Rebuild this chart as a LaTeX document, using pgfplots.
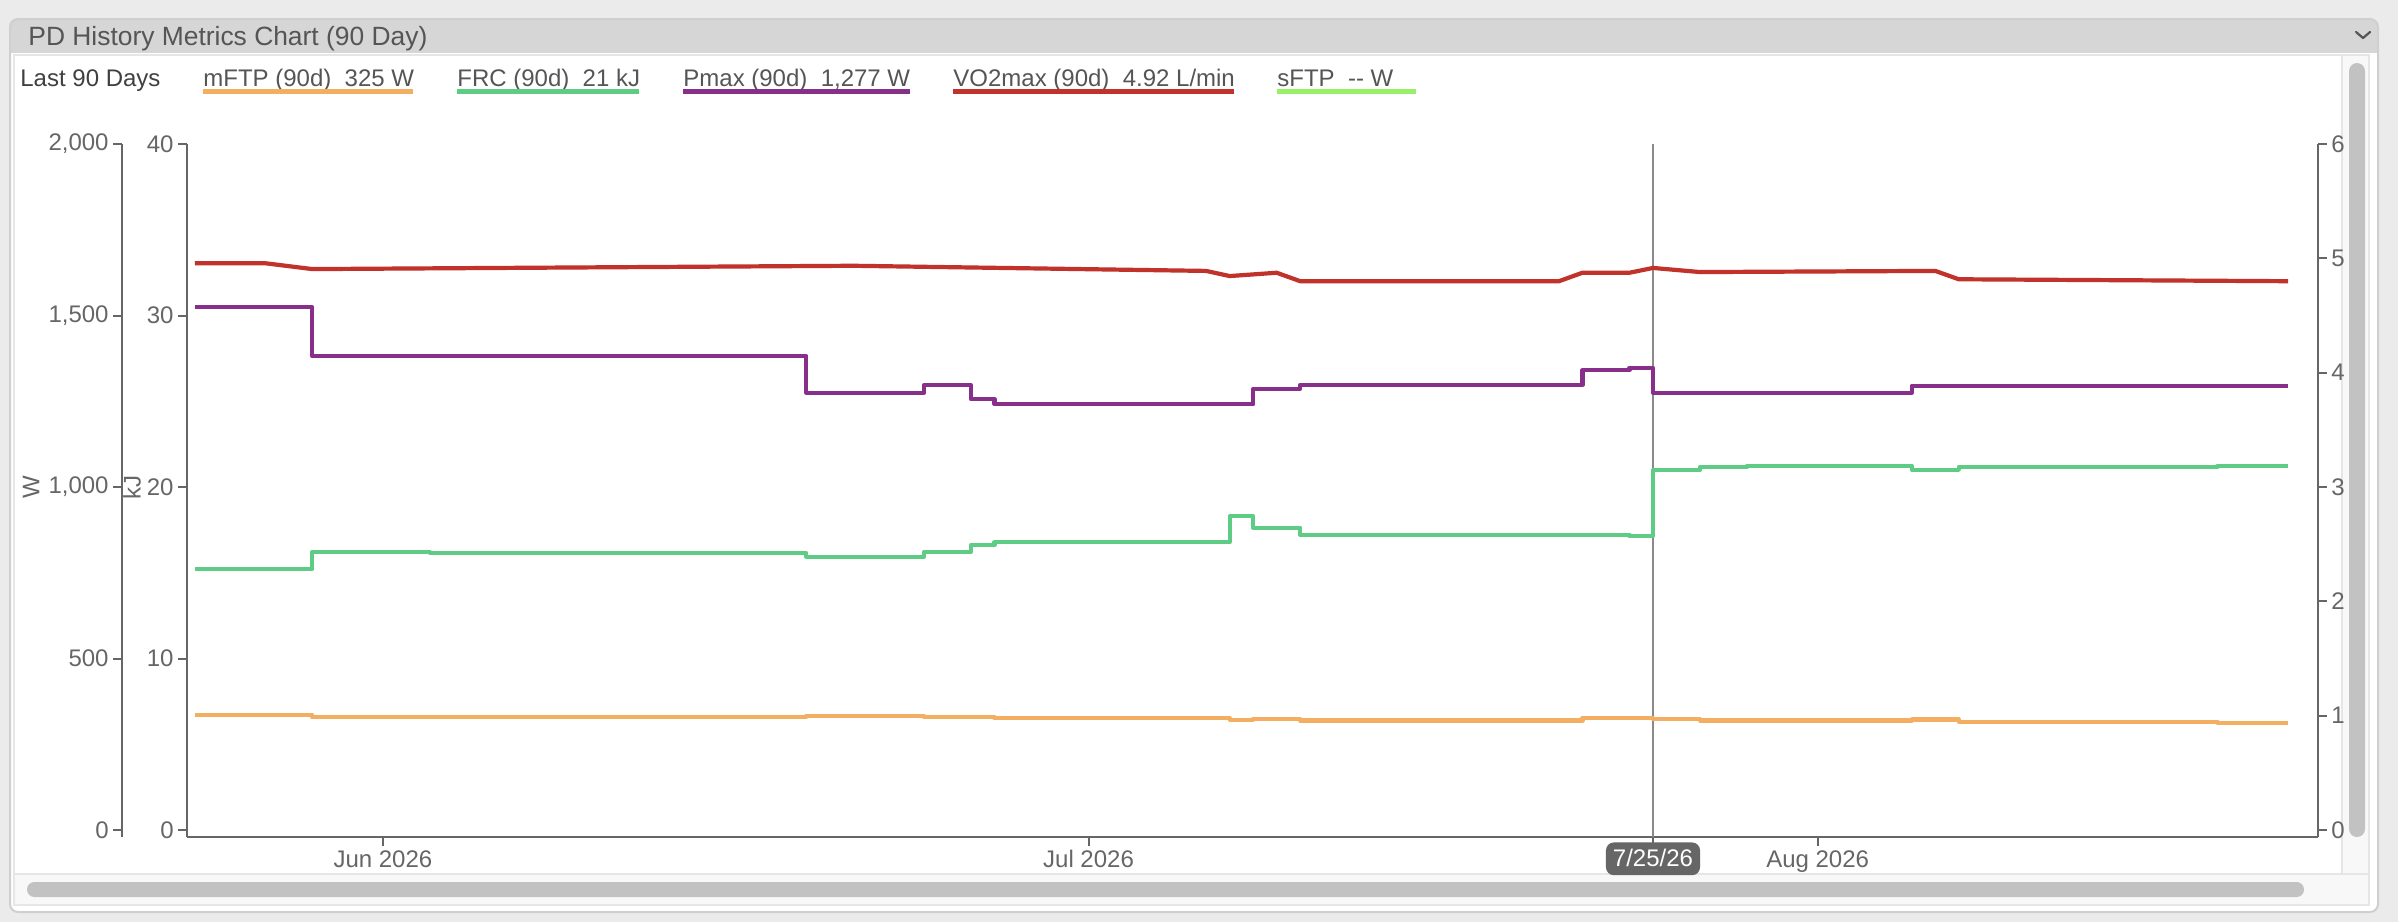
\documentclass[border=0pt]{standalone}
\usepackage{fontspec}
\setmainfont{Liberation Sans}
\usepackage{pgfplots}
\usepackage{pgfplotstable}
\pgfplotsset{compat=1.18}

\definecolor{cOrange}{HTML}{F4AE62}
\definecolor{cGreen}{HTML}{5FCC85}
\definecolor{cPurple}{HTML}{872F8B}
\definecolor{cRed}{HTML}{C0322A}
\definecolor{cLime}{HTML}{98F067}
\definecolor{tickc}{HTML}{666666}
\definecolor{hdr}{HTML}{D6D6D6}
\definecolor{bgc}{HTML}{EBEBEB}
\definecolor{thumb}{HTML}{C2C2C2}
\definecolor{panelb}{HTML}{CFCFCF}
\definecolor{paneb}{HTML}{E6E6E6}
\definecolor{track}{HTML}{F8F8F8}
\definecolor{txt}{HTML}{555555}
\definecolor{tagc}{HTML}{666666}
\definecolor{cursorc}{HTML}{8A8A8A}

% day 0 = 1 Jun 2026
\pgfplotstableread{
d v
-8 336
-3 329
18 333
23 329
26 326
36 321
37 324.5
39 319
51 326
54 323
56 319
65 322
67 316
78 313
81 313
}\mftp

\pgfplotstableread{
d v
-8 15.22
-3 16.21
2 16.15
18 15.94
23 16.21
25 16.62
26 16.79
36 18.29
37 17.63
39 17.22
53 17.14
54 20.99
56 21.18
58 21.24
65 21.00
67 21.17
78 21.24
81 21.24
}\frc

\pgfplotstableread{
d v
-8 1524
-3 1382
18 1275
23 1297
25 1256
26 1241
37 1286
39 1298
51 1341
53 1347
54 1275
65 1295
81 1295
}\pmax

\pgfplotstableread{
d v
-8 4.957
-5 4.957
-3 4.906
20 4.935
35 4.890
36 4.845
38 4.874
39 4.800
50 4.800
51 4.874
53 4.874
54 4.916
56 4.880
66 4.890
67 4.817
81 4.800
}\vo

\pgfplotsset{
  lw/.style={line width=2.1pt, line join=round},
  base/.style={
    at={(O)}, anchor=south west, scale only axis,
    width=1065.5pt, height=346.5pt,
    xmin=-8.33, xmax=82.27,
    tick align=outside, major tick length=4.5pt,
    axis line style={-, draw=tickc, line width=1pt},
    every tick/.style={draw=tickc, line width=1pt},
    tick label style={font=\fontsize{12}{14}\selectfont, text=tickc, inner sep=2pt,
      /pgf/number format/assume math mode=true},
  },
}

\begin{document}
\begin{tikzpicture}
\begin{scope}[x=0.5pt,y=-0.5pt]
\useasboundingbox (0,0) rectangle (2398,922);
\fill[bgc] (0,0) rectangle (2398,922);
\fill[white, rounded corners=4pt] (10,19) rectangle (2378,912);
\begin{scope}
  \clip[rounded corners=4pt] (10,19) rectangle (2378,912);
  \fill[hdr] (10,19) rectangle (2378,53);
\end{scope}
\draw[panelb, line width=1pt, rounded corners=4pt] (10,19) rectangle (2378,912);
% panes and scrollbars
\fill[track] (2342,55) rectangle (2369,874);
\fill[track] (14,874) rectangle (2369,905);
\draw[paneb, line width=1.2pt] (14,55) rectangle (2342,874);
\draw[paneb, line width=1.2pt] (2342,55) rectangle (2369,874);
\draw[paneb, line width=1.2pt] (14,874) rectangle (2369,905);
\fill[thumb, rounded corners=4pt] (2349,63) rectangle (2365,837);
\fill[thumb, rounded corners=3.7pt] (27,882) rectangle (2304,897);
% header
\node[anchor=base west, inner sep=0, text=txt, font=\fontsize{13.2}{15}\selectfont] at (28,45) {PD History Metrics Chart (90 Day)};
\draw[txt, line width=1.1pt, line cap=round, line join=round] (2356,32) -- (2363,38) -- (2370,32);
% legend
\node[anchor=base west, inner sep=0, text=black!75, font=\fontsize{12}{14}\selectfont] at (20,86) {Last 90 Days};
\foreach \xs/\xe/\c/\t in {203/413/cOrange/{mFTP (90d)~~325 W},
                          457/639/cGreen/{FRC (90d)~~21 kJ},
                          683/910/cPurple/{Pmax (90d)~~1,277 W},
                          953/1234/cRed/{VO2max (90d)~~4.92 L/min},
                          1277/1416/cLime/{sFTP~~-{}- W}}{
  \node[anchor=base west, inner sep=0, text=txt, font=\fontsize{12}{14}\selectfont] at (\xs,86) {\t};
  \draw[\c, line width=2.3pt] (\xs,91.5) -- (\xe,91.5);
}
% axis titles
\node[rotate=90, text=tickc, font=\fontsize{12}{14}\selectfont] at (31,487) {W};
\node[rotate=90, text=tickc, font=\fontsize{12}{14}\selectfont] at (132,487) {kJ};
\coordinate (O) at (187,837);
\coordinate (WO) at (122,837);
\end{scope}

% kJ axis with dates
\begin{axis}[base, ymin=-0.408, ymax=40,
  axis x line*=bottom, axis y line*=left,
  ytick={0,10,20,30,40},
  xtick={0,30,61}, xticklabels={Jun 2026,Jul 2026,Aug 2026},
  extra x ticks={54}, extra x tick labels={7/25/26},
  extra x tick style={grid=major,
    major grid style={draw=cursorc, line width=0.7pt},
    xticklabel style={fill=tagc, text=white, rounded corners=4pt,
      text height=8.8pt, text depth=1pt, inner xsep=3.5pt, inner ysep=3.3pt, yshift=2pt}},
]
\addplot[const plot, cGreen, lw] table[x=d, y=v] {\frc};
\end{axis}

% W series
\begin{axis}[base, ymin=-20.4, ymax=2000, hide axis]
\addplot[const plot, cOrange, lw] table[x=d, y=v] {\mftp};
\addplot[const plot, cPurple, lw] table[x=d, y=v] {\pmax};
\end{axis}

% L/min series, right axis
\begin{axis}[base, ymin=-0.0612, ymax=6,
  axis x line=none, axis y line*=right,
  ytick={0,1,2,3,4,5,6}]
\addplot[cRed, lw] table[x=d, y=v] {\vo};
\end{axis}

% W axis, drawn on its own to the left
\begin{axis}[at={(WO)}, anchor=south west, scale only axis,
  width=1pt, height=346.5pt, xmin=0, xmax=1, ymin=-20.4, ymax=2000,
  axis x line=none, axis y line*=left,
  tick align=outside, major tick length=4.5pt,
  axis line style={-, draw=tickc, line width=1pt},
  every tick/.style={draw=tickc, line width=1pt},
  ytick={0,500,1000,1500,2000},
  tick label style={font=\fontsize{12}{14}\selectfont, text=tickc, inner sep=2pt,
    /pgf/number format/assume math mode=true, /pgf/number format/1000 sep={,}},
]
\end{axis}
\end{tikzpicture}
\end{document}
